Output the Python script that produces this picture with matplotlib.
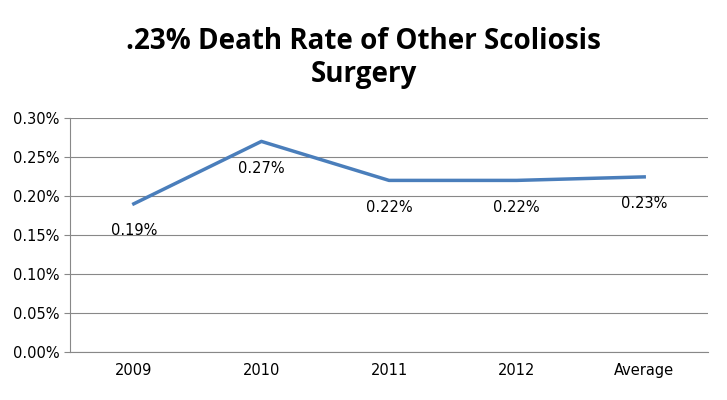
import matplotlib
matplotlib.use("Agg")
import matplotlib.pyplot as plt
from matplotlib.ticker import FuncFormatter

categories = ["2009", "2010", "2011", "2012", "Average"]
values = [0.19, 0.27, 0.22, 0.22, 0.2245]
labels = ["0.19%", "0.27%", "0.22%", "0.22%", "0.23%"]
yticks = [0.0, 0.05, 0.10, 0.15, 0.20, 0.25, 0.30]

fig = plt.figure(figsize=(7.27, 4.0), dpi=100)
ax = fig.add_axes([70/727, 1-352/400, 638/727, 234/400])
x = list(range(len(categories)))
ax.plot(x, values, color="#4A7EBB", lw=2.5)
for xi, v, t in zip(x, values, labels):
    ax.annotate(t, (xi, v), xytext=(0, -14), textcoords="offset points",
                ha="center", va="top", fontsize=10.5, family="DejaVu Sans")
ax.set_xlim(-0.5, len(categories) - 0.5)
ax.set_ylim(0, 0.30)
ax.set_yticks(yticks)
ax.yaxis.set_major_formatter(FuncFormatter(lambda v, p: f"{v:.2f}%"))
ax.set_xticks(x)
ax.set_xticklabels(categories)
ax.grid(axis="y", color="#888888", lw=0.8)
ax.set_axisbelow(True)
for s in ["top", "right"]:
    ax.spines[s].set_visible(False)
for s in ["left", "bottom"]:
    ax.spines[s].set_color("#888888")
ax.tick_params(axis="both", labelsize=10.5, color="#888888", length=4)
ax.tick_params(axis="x", length=0, pad=8)
fig.text(0.5, 0.855, ".23% Death Rate of Other Scoliosis\nSurgery", ha="center",
         va="center", fontsize=20, fontweight="bold", family="Open Sans", linespacing=1.15)
fig.savefig("out.png", dpi=100)
